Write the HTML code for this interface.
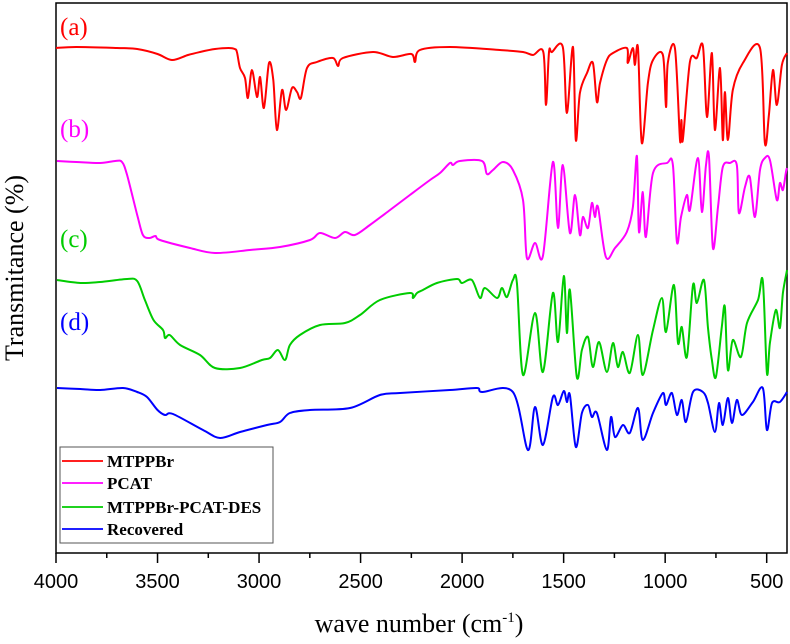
<!DOCTYPE html>
<html><head><meta charset="utf-8"><style>
html,body{margin:0;padding:0;background:#fff;}
svg{display:block;}
</style></head><body>
<svg id="chart" width="790" height="644" viewBox="0 0 790 644" xmlns="http://www.w3.org/2000/svg">
<g id="plot"></g>
</svg>
<script>
// Data: [wavenumber cm-1, transmittance (offset a.u.)]
const ticksX = [4000, 3500, 3000, 2500, 2000, 1500, 1000, 500];
const minorX = [3750, 3250, 2750, 2250, 1750, 1250, 750];
const seriesNames = ["MTPPBr", "PCAT", "MTPPBr-PCAT-DES", "Recovered"];
const seriesLabels = ["(a)", "(b)", "(c)", "(d)"];
const seriesColors = ["#ff0000", "#ff00ff", "#00cc00", "#0000ff"];
const dataA = [[4000,512],[3900,513],[3700,512],[3600,511],[3500,506],[3429,500],[3350,505],[3291,508],[3217,511],[3150,512],[3120,511],[3109,508],[3094,492],[3069,482],[3055,462],[3035,490],[3010,463],[2995,483],[2976,452],[2951,497],[2930,480],[2912,430],[2887,470],[2867,450],[2838,472],[2813,468],[2794,462],[2764,492],[2715,498],[2636,502],[2611,494],[2587,502],[2439,508],[2341,503],[2250,506],[2232,498],[2208,510],[2060,513],[1814,510],[1700,508],[1651,505],[1600,508],[1587,455],[1572,508],[1558,508],[1504,513],[1484,447],[1454,513],[1440,420],[1420,467],[1385,487],[1356,497],[1336,458],[1321,477],[1287,500],[1257,507],[1189,512],[1184,497],[1159,512],[1149,495],[1134,512],[1115,417],[1085,477],[1060,500],[1011,505],[996,453],[987,497],[952,512],[927,420],[920,440],[913,420],[878,498],[844,502],[814,514],[794,443],[770,507],[755,430],[730,492],[716,420],[706,468],[691,420],[667,470],[617,497],[533,512],[509,417],[489,445],[469,490],[450,455],[425,495],[400,507]];
const dataB = [[3995,399],[3900,398],[3783,397],[3709,399],[3675,398],[3650,385],[3600,345],[3572,325],[3540,322],[3510,324],[3488,320],[3340,312],[3217,307],[3045,310],[2897,313],[2749,320],[2700,327],[2626,322],[2577,328],[2528,325],[2454,335],[2355,350],[2257,365],[2158,380],[2109,387],[2060,397],[2045,395],[2011,399],[1902,399],[1878,386],[1848,390],[1799,398],[1750,390],[1700,360],[1681,302],[1641,317],[1602,304],[1553,398],[1528,332],[1504,395],[1469,327],[1444,365],[1420,325],[1405,343],[1380,332],[1361,357],[1346,343],[1331,353],[1292,303],[1247,312],[1189,328],[1159,353],[1139,404],[1129,328],[1110,368],[1095,323],[1060,387],[991,397],[962,395],[942,318],[922,343],[893,365],[878,350],[839,402],[819,348],[799,395],[784,403],[765,312],[740,353],[716,393],[681,397],[647,395],[637,347],[607,373],[583,383],[558,343],[533,390],[509,402],[484,400],[450,360],[435,377],[420,370],[405,388],[400,392]];
const dataC = [[3995,280],[3880,277],[3783,278],[3650,281],[3600,279],[3562,260],[3520,240],[3473,230],[3463,222],[3440,225],[3389,215],[3291,205],[3217,192],[3094,192],[2986,200],[2946,202],[2907,210],[2872,200],[2848,215],[2799,225],[2700,235],[2577,237],[2503,245],[2405,260],[2257,267],[2242,262],[2222,267],[2193,270],[2124,277],[2025,281],[2001,277],[1952,280],[1912,262],[1888,272],[1828,262],[1804,272],[1779,263],[1750,280],[1730,277],[1700,185],[1641,247],[1602,188],[1553,267],[1528,218],[1499,284],[1484,227],[1469,270],[1435,183],[1410,210],[1380,223],[1356,193],[1326,218],[1287,188],[1257,217],[1233,193],[1208,208],[1174,187],[1134,225],[1110,185],[1060,230],[1016,262],[996,228],[957,275],[937,217],[918,233],[893,203],[863,275],[844,257],[809,280],[789,232],[770,200],[750,183],[721,233],[706,253],[691,190],[667,220],[627,203],[597,237],[543,260],[519,279],[499,187],[484,217],[455,250],[435,232],[420,267],[400,290]];
const dataD = [[3995,172],[3880,171],[3783,170],[3670,172],[3600,168],[3552,163],[3500,150],[3463,145],[3424,146],[3276,130],[3192,122],[3094,128],[2961,135],[2897,138],[2848,147],[2750,150],[2552,152],[2405,165],[2306,167],[2060,170],[1927,172],[1902,168],[1750,168],[1676,110],[1641,153],[1602,115],[1553,163],[1528,155],[1499,169],[1484,158],[1469,165],[1440,113],[1410,147],[1380,155],[1361,143],[1336,147],[1287,110],[1267,143],[1247,123],[1208,135],[1174,127],[1134,152],[1110,120],[1060,147],[1011,167],[996,155],[967,167],[942,145],[918,160],[898,138],[863,168],[814,168],[789,157],[755,128],[735,157],[716,135],[691,162],[671,137],[647,160],[622,145],[568,158],[519,172],[499,130],[474,157],[435,158],[400,168]];

const NS = "http://www.w3.org/2000/svg";
const svg = document.getElementById("chart");
const L = 56, R = 787, T = 3, B = 553;
const xMin = 4000, xMax = 400;
const xScale = w => L + (xMin - w) * (R - L) / (xMin - xMax);
const yScale = t => 560 - t;
function mk(tag, attrs, parent) {
  const e = document.createElementNS(NS, tag);
  for (const k in attrs) e.setAttribute(k, attrs[k]);
  (parent || svg).appendChild(e);
  return e;
}
function smoothPath(pts) {
  let d = "M" + pts[0][0].toFixed(1) + "," + pts[0][1].toFixed(1);
  for (let i = 0; i < pts.length - 1; i++) {
    const p0 = pts[Math.max(0, i - 1)], p1 = pts[i], p2 = pts[i + 1], p3 = pts[Math.min(pts.length - 1, i + 2)];
    const k = 0.16;
    const c1x = p1[0] + (p2[0] - p0[0]) * k, c1y = p1[1] + (p2[1] - p0[1]) * k;
    const c2x = p2[0] - (p3[0] - p1[0]) * k, c2y = p2[1] - (p3[1] - p1[1]) * k;
    d += " C" + c1x.toFixed(1) + "," + c1y.toFixed(1) + " " + c2x.toFixed(1) + "," + c2y.toFixed(1) + " " + p2[0].toFixed(1) + "," + p2[1].toFixed(1);
  }
  return d;
}
const plot = document.getElementById("plot");
const frame = mk("rect", {x:L, y:T, width:R-L, height:B-T, fill:"none", stroke:"#000", "stroke-width":1.5}, plot);



[dataA, dataB, dataC, dataD].forEach((d, i) => {
  const pts = d.map(q => [xScale(q[0]), yScale(q[1])]);
  const p = mk("path", {d: smoothPath(pts), fill:"none", stroke:seriesColors[i], "stroke-width":2, "stroke-linejoin":"round"}, plot);
  
  
});
const labelY = [35, 137, 247, 330];
seriesLabels.forEach((s, i) => {
  const t = mk("text", {x:60, y:labelY[i], fill:seriesColors[i], "font-family":"Liberation Serif, serif", "font-size":25}, plot);
  t.textContent = s;
  
  
});
ticksX.forEach(v => {
  const x = xScale(v);
  const tk = mk("line", {x1:x, x2:x, y1:B, y2:B+10, stroke:"#000", "stroke-width":1.5});
  
  
  const tl = mk("text", {x:x, y:588, "text-anchor":"middle", "font-family":"Liberation Sans, sans-serif", "font-size":20}, svg);
  tl.textContent = v;
  
  
});
minorX.forEach(v => {
  const x = xScale(v);
  const tk = mk("line", {x1:x, x2:x, y1:B, y2:B+5, stroke:"#000", "stroke-width":1.5});
  
  
});
const xt = mk("text", {x:419, y:632, "text-anchor":"middle", "font-family":"Liberation Serif, serif", "font-size":26});
xt.innerHTML = 'wave number (cm<tspan dy="-10" font-size="15">-1</tspan><tspan dy="10">)</tspan>';


const yt = mk("text", {x:0, y:0, transform:"translate(23,268) rotate(-90)", "text-anchor":"middle", "font-family":"Liberation Serif, serif", "font-size":26});
yt.textContent = "Transmitance (%)";


const lg = mk("g", {});


const lb = mk("rect", {x:60, y:447, width:213, height:96, fill:"#fff", stroke:"#555", "stroke-width":1}, lg);


const rowY = [461, 483, 507, 529];
seriesNames.forEach((s, i) => {
  const ln = mk("line", {x1:62, x2:103, y1:rowY[i], y2:rowY[i], stroke:seriesColors[i], "stroke-width":1.8}, lg);
  
  
  const tx = mk("text", {x:107, y:rowY[i]+6, "font-family":"Liberation Serif, serif", "font-size":17, "font-weight":"bold"}, lg);
  tx.textContent = s;
  
  
});
</script>
</body></html>
